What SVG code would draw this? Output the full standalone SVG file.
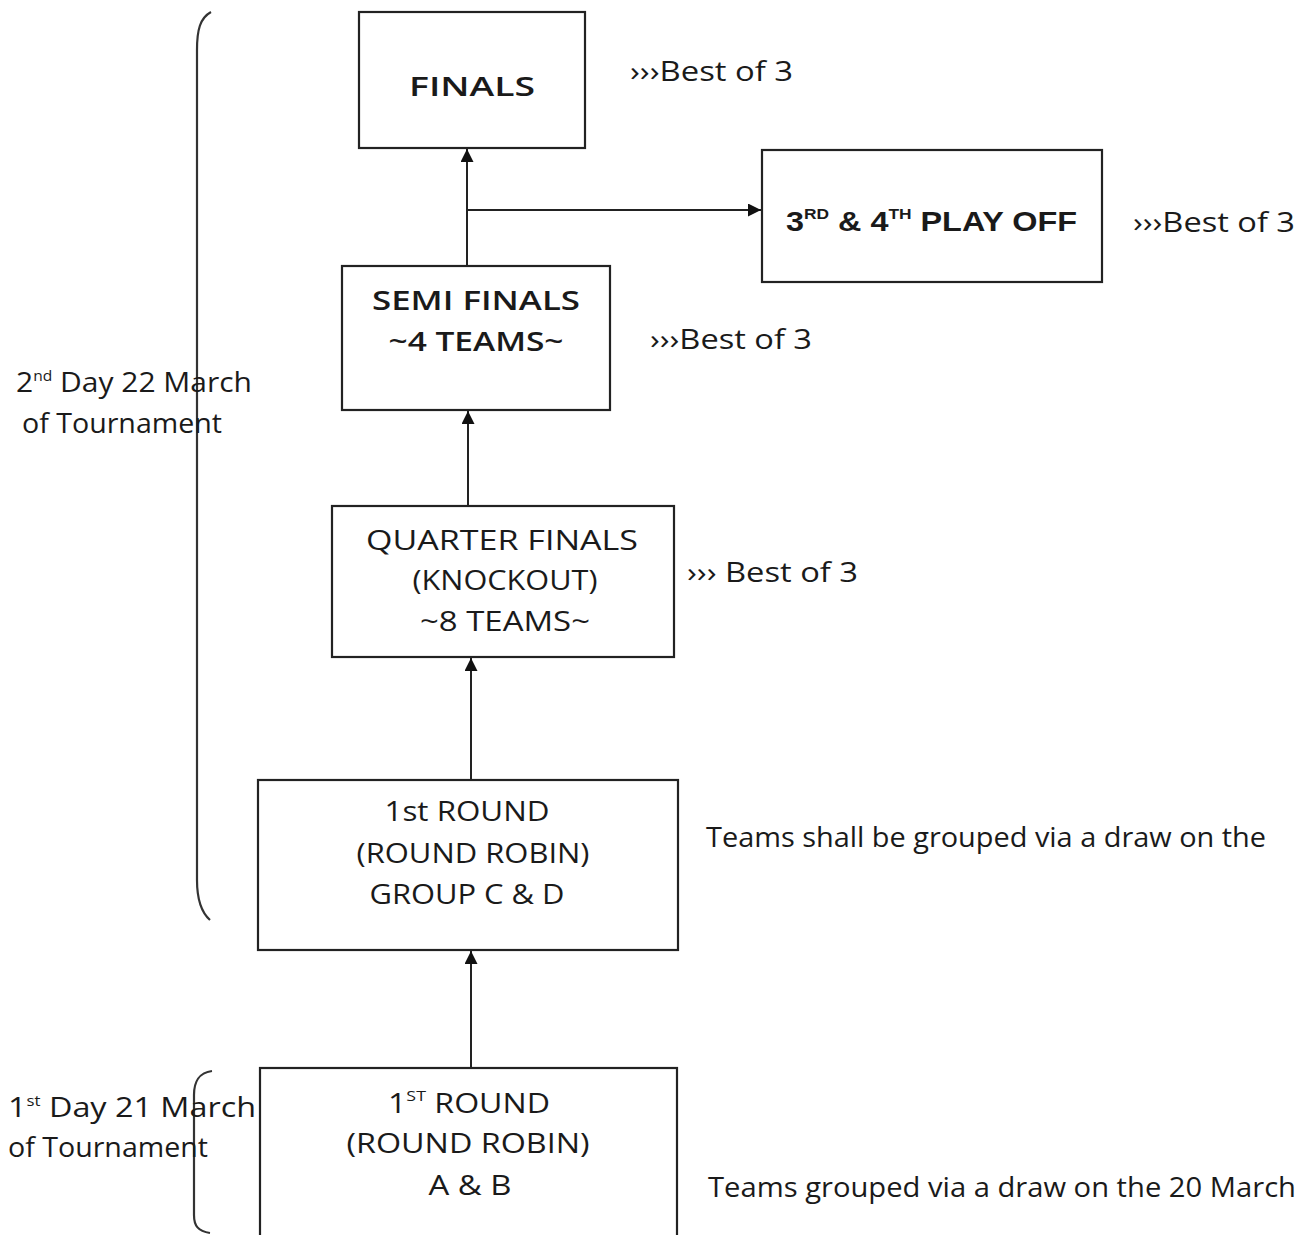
<svg xmlns="http://www.w3.org/2000/svg" width="1304" height="1235" viewBox="0 0 1304 1235">
<style>
.box{fill:#fff;stroke:#222;stroke-width:2.2}
.t{font-family:"Open Sans","DejaVu Sans",sans-serif;font-size:27px;fill:#1a1a1a;text-anchor:middle}
.n{font-family:"Open Sans","DejaVu Sans",sans-serif;font-size:27px;fill:#1a1a1a}
.b{font-family:"Liberation Sans",Arial,sans-serif;font-weight:bold;font-size:28px;fill:#1a1a1a}
.c{fill:none;stroke:#222;stroke-width:2}
.br{fill:none;stroke:#333;stroke-width:2.2}
</style>
<defs>
<marker id="ah2" viewBox="0 0 10 10" refX="10" refY="5" markerWidth="13" markerHeight="13" markerUnits="userSpaceOnUse" orient="auto">
<path d="M0,0 L10,5 L0,10 z" fill="#111"/>
</marker>
</defs>
<rect width="1304" height="1235" fill="#fff"/>

<g id="connectors">
<line class="c" x1="467" y1="266" x2="467" y2="149" marker-end="url(#ah2)"/>
<line class="c" x1="467" y1="210" x2="761" y2="210" marker-end="url(#ah2)"/>
<line class="c" x1="468" y1="505" x2="468" y2="411" marker-end="url(#ah2)"/>
<line class="c" x1="471" y1="780" x2="471" y2="658" marker-end="url(#ah2)"/>
<line class="c" x1="471" y1="1068" x2="471" y2="951" marker-end="url(#ah2)"/>
</g>

<g id="brace-day2">
<path class="br" d="M211,12 C200,18 197,30 197,50 L197,880 C197,900 201,912 210,920"/>
</g>
<g id="brace-day1">
<path class="br" d="M212,1071 C198,1073 194,1082 194,1095 L194,1215 C194,1226 198,1231 210,1233"/>
</g>

<g id="finals">
<rect class="box" x="359" y="12" width="226" height="136"/>
<text class="t" x="472" y="96" font-size="29" font-weight="600" textLength="126" lengthAdjust="spacingAndGlyphs">FINALS</text>
</g>
<text class="n" x="630" y="81" textLength="163" lengthAdjust="spacingAndGlyphs">›››Best of 3</text>

<g id="playoff">
<rect class="box" x="762" y="150" width="340" height="132"/>
<text class="b" x="786" y="231" textLength="291" lengthAdjust="spacingAndGlyphs">3<tspan font-size="15" dy="-12">RD</tspan><tspan dy="12"> &amp; 4</tspan><tspan font-size="15" dy="-12">TH</tspan><tspan dy="12"> PLAY OFF</tspan></text>
</g>
<text class="n" x="1133" y="232" textLength="162" lengthAdjust="spacingAndGlyphs">›››Best of 3</text>

<g id="semi">
<rect class="box" x="342" y="266" width="268" height="144"/>
<text class="t" x="476" y="310" font-weight="600" textLength="208" lengthAdjust="spacingAndGlyphs">SEMI FINALS</text>
<text class="t" x="476" y="351" font-weight="600" textLength="175" lengthAdjust="spacingAndGlyphs">~4 TEAMS~</text>
</g>
<text class="n" x="650" y="349" textLength="162" lengthAdjust="spacingAndGlyphs">›››Best of 3</text>

<g id="quarter">
<rect class="box" x="332" y="506" width="342" height="151"/>
<text class="t" x="502" y="550" font-weight="500" textLength="272" lengthAdjust="spacingAndGlyphs">QUARTER FINALS</text>
<text class="t" x="505" y="590" font-weight="500" textLength="185" lengthAdjust="spacingAndGlyphs">(KNOCKOUT)</text>
<text class="t" x="505" y="631" font-weight="500" textLength="170" lengthAdjust="spacingAndGlyphs">~8 TEAMS~</text>
</g>
<text class="n" x="687" y="582" textLength="171" lengthAdjust="spacingAndGlyphs">››› Best of 3</text>

<g id="round1-cd">
<rect class="box" x="258" y="780" width="420" height="170"/>
<text class="t" x="467" y="821" font-weight="500" textLength="165" lengthAdjust="spacingAndGlyphs">1st ROUND</text>
<text class="t" x="473" y="863" font-weight="500" textLength="233" lengthAdjust="spacingAndGlyphs">(ROUND ROBIN)</text>
<text class="t" x="467" y="904" font-weight="500" textLength="195" lengthAdjust="spacingAndGlyphs">GROUP C &amp; D</text>
</g>
<text class="n" x="706" y="847" textLength="560" lengthAdjust="spacingAndGlyphs">Teams shall be grouped via a draw on the</text>

<g id="round1-ab">
<rect class="box" x="260" y="1068" width="417" height="170"/>
<text class="t" x="469" y="1113" font-weight="500" textLength="162" lengthAdjust="spacingAndGlyphs">1<tspan font-size="15" dy="-12">ST</tspan><tspan dy="12"> ROUND</tspan></text>
<text class="t" x="468" y="1153" font-weight="500" textLength="243" lengthAdjust="spacingAndGlyphs">(ROUND ROBIN)</text>
<text class="t" x="470" y="1195" font-weight="500" textLength="83" lengthAdjust="spacingAndGlyphs">A &amp; B</text>
</g>
<text class="n" x="708" y="1197" textLength="588" lengthAdjust="spacingAndGlyphs">Teams grouped via a draw on the 20 March</text>

<text class="n" x="16" y="392" textLength="236" lengthAdjust="spacingAndGlyphs">2<tspan font-size="14" dy="-11">nd</tspan><tspan dy="11"> Day 22 March</tspan></text>
<text class="n" x="22" y="433" textLength="200" lengthAdjust="spacingAndGlyphs">of Tournament</text>
<text class="n" x="8" y="1117" textLength="248" lengthAdjust="spacingAndGlyphs">1<tspan font-size="14" dy="-11">st</tspan><tspan dy="11"> Day   21 March</tspan></text>
<text class="n" x="8" y="1157" textLength="200" lengthAdjust="spacingAndGlyphs">of Tournament</text>
</svg>
